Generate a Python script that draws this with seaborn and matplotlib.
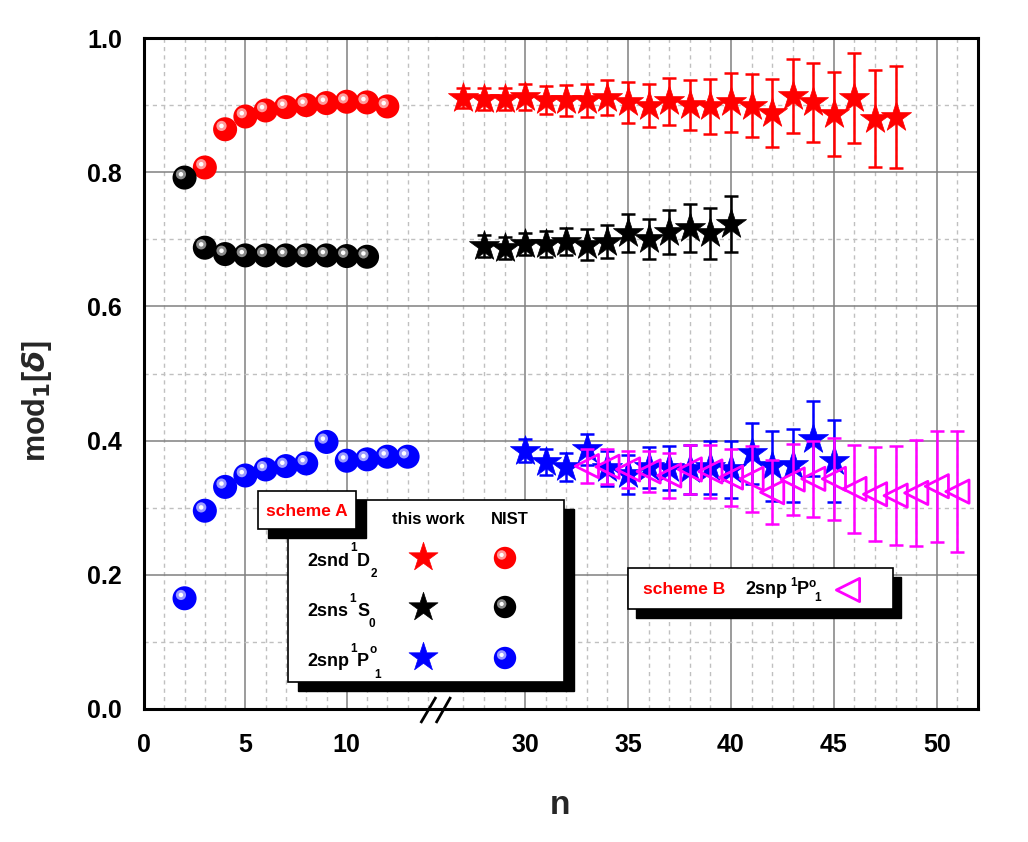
import pandas as pd
import seaborn as sns
import matplotlib.pyplot as plt
from matplotlib.patches import Rectangle
from matplotlib.transforms import ScaledTranslation

# NIST values (left part of the broken axis)
nist_d_n = [3, 4, 5, 6, 7, 8, 9, 10, 11, 12]
nist_d = [0.807, 0.864, 0.883, 0.892, 0.897, 0.900, 0.903, 0.905, 0.904, 0.898]
nist_s_n = [2, 3, 4, 5, 6, 7, 8, 9, 10, 11]
nist_s = [0.792, 0.6875, 0.678, 0.676, 0.676, 0.676, 0.676, 0.676, 0.675, 0.674]
nist_p_n = [2, 3, 4, 5, 6, 7, 8, 9, 10, 11, 12, 13]
nist_p = [0.165, 0.2955, 0.331, 0.348, 0.357, 0.362, 0.366, 0.398, 0.370, 0.372, 0.376, 0.376]

# this work, scheme A (right part)
work_d_n = list(range(27, 49))
work_d = [0.910, 0.909, 0.909, 0.912, 0.908, 0.907, 0.907, 0.911, 0.904, 0.899, 0.906,
          0.900, 0.898, 0.904, 0.899, 0.888, 0.914, 0.904, 0.887, 0.911, 0.880, 0.883]
work_d_err = [0.015, 0.016, 0.017, 0.019, 0.021, 0.023, 0.024, 0.026, 0.030, 0.032, 0.035,
              0.037, 0.041, 0.044, 0.047, 0.051, 0.055, 0.059, 0.063, 0.067, 0.072, 0.076]
work_s_n = list(range(28, 41))
work_s = [0.690, 0.687, 0.693, 0.693, 0.6965, 0.692, 0.6965, 0.709, 0.700, 0.711, 0.717, 0.709, 0.723]
work_s_err = [0.016, 0.017, 0.017, 0.019, 0.020, 0.023, 0.025, 0.028, 0.030, 0.033, 0.036, 0.038, 0.042]
work_p_n = list(range(30, 46))
work_p = [0.385, 0.368, 0.361, 0.387, 0.359, 0.350, 0.360, 0.359, 0.357, 0.360, 0.357,
          0.381, 0.362, 0.363, 0.403, 0.370]
work_p_err = [0.017, 0.019, 0.021, 0.023, 0.026, 0.029, 0.031, 0.033, 0.037, 0.040, 0.042,
              0.045, 0.052, 0.054, 0.056, 0.061]

# scheme B
b_p_n = list(range(33, 52))
b_p = [0.362, 0.361, 0.357, 0.354, 0.348, 0.357, 0.354, 0.345, 0.343, 0.323, 0.342,
       0.343, 0.343, 0.328, 0.320, 0.318, 0.322, 0.332, 0.324]
b_p_err = [0.025, 0.026, 0.028, 0.031, 0.033, 0.037, 0.040, 0.043, 0.049, 0.048, 0.053,
           0.057, 0.061, 0.065, 0.070, 0.074, 0.079, 0.083, 0.090]

RED, BLACK, BLUE, MAG = "#FF0000", "#000000", "#0000FF", "#FF00FF"

sns.set_theme(style="white")
plt.rcParams["font.family"] = ["Liberation Sans", "DejaVu Sans"]
plt.rcParams["font.weight"] = "bold"
plt.rcParams["axes.edgecolor"] = "black"
plt.rcParams["xtick.color"] = "black"
plt.rcParams["ytick.color"] = "black"

W, H = 1028, 842
fig = plt.figure(figsize=(W / 100, H / 100), dpi=100)


def frac(x0, y0, x1, y1):
    return [x0 / W, 1 - y1 / H, (x1 - x0) / W, (y1 - y0) / H]


ax1 = fig.add_axes(frac(144, 38, 436, 709))
ax2 = fig.add_axes(frac(436, 38, 978, 709), sharey=ax1)


def balls(ax, n, y, color, glow, s=300):
    df = pd.DataFrame({"n": n, "y": y})
    sns.scatterplot(data=df, x="n", y="y", ax=ax, color=color, s=s, edgecolor="none",
                    zorder=4, legend=False)
    shift = ax.transData + ScaledTranslation(-2.6 / 72, 2.4 / 72, fig.dpi_scale_trans)
    ax.scatter(n, y, s=s * 0.18, color=glow, edgecolor="none", transform=shift, zorder=5)
    ax.scatter(n, y, s=s * 0.035, color="white", edgecolor="none", transform=shift, zorder=6)


def stars(ax, n, y, err, color):
    ax.errorbar(n, y, yerr=err, fmt="none", ecolor=color, elinewidth=1.8,
                capsize=4.8, capthick=1.8, zorder=3)
    sns.scatterplot(x=n, y=y, ax=ax, marker="*", s=520, color=color, edgecolor=color,
                    linewidth=0.5, zorder=4, legend=False)


balls(ax1, nist_d_n, nist_d, RED, "#FF9A9A")
balls(ax1, nist_s_n, nist_s, BLACK, "#8A8A8A")
balls(ax1, nist_p_n, nist_p, BLUE, "#9A9AFF")

stars(ax2, work_d_n, work_d, work_d_err, RED)
stars(ax2, work_s_n, work_s, work_s_err, BLACK)
stars(ax2, work_p_n, work_p, work_p_err, BLUE)
ax2.errorbar(b_p_n, b_p, yerr=b_p_err, fmt="none", ecolor=MAG, elinewidth=1.8,
             capsize=4.8, capthick=1.8, zorder=5)
sns.scatterplot(x=b_p_n, y=b_p, ax=ax2, marker="<", s=280, facecolor="none",
                edgecolor=MAG, linewidth=2, zorder=6, legend=False)

ax1.set_xlim(0, 14.4)
ax2.set_xlim(25.67, 52)
ax1.set_ylim(0, 1.0)

for ax, major, minor in [(ax1, [0, 5, 10], [i for i in range(1, 15) if i % 5]),
                         (ax2, [30, 35, 40, 45, 50], [i for i in range(27, 53) if i % 5])]:
    ax.set_xticks(major)
    ax.set_xticks(minor, minor=True)
    ax.set_yticks([0, 0.2, 0.4, 0.6, 0.8, 1.0])
    ax.set_yticks([0.1, 0.3, 0.5, 0.7, 0.9], minor=True)
    ax.set_axisbelow(True)
    ax.grid(which="major", color="#808080", lw=1.1, ls="-")
    ax.grid(which="minor", color="#C0C0C0", lw=1.0, ls=(0, (3, 3)))
    ax.tick_params(which="major", direction="out", length=9, width=1.8, labelsize=18, pad=8)
    ax.tick_params(which="minor", direction="out", length=5.5, width=1.5)
    ax.tick_params(top=False, right=False)
    ax.set_xlabel("")
    ax.set_ylabel("")
    for sp in ax.spines.values():
        sp.set_linewidth(2.2)
        sp.set_color("black")

ax1.spines["right"].set_visible(False)
ax2.spines["left"].set_visible(False)
ax2.tick_params(axis="y", which="both", left=False, labelleft=False)
ax1.tick_params(axis="y", pad=7)
ax1.set_yticklabels(["0.0", "0.2", "0.4", "0.6", "0.8", "1.0"])

fig.text(560 / W, 1 - 805 / H, "n", ha="center", va="center", fontsize=24, fontweight="bold")
fig.text(37 / W, 1 - 401 / H, r"mod$_1$[$\delta$]", ha="center", va="center",
         rotation=90, fontsize=22, fontweight="bold")

# overlay in pixel coordinates for the boxes and the axis break
lay = fig.add_axes([0, 0, 1, 1], zorder=10)
lay.set_xlim(0, W)
lay.set_ylim(H, 0)
lay.axis("off")


def shadow_box(x0, y0, x1, y1, dx, dy):
    lay.add_patch(Rectangle((x0 + dx, y0 + dy), x1 - x0, y1 - y0, fc="black", ec="black", lw=1))
    lay.add_patch(Rectangle((x0, y0), x1 - x0, y1 - y0, fc="white", ec="black", lw=1.2))


def t(x, y, s, size=12, color="black", ha="left"):
    lay.text(x, y, s, fontsize=size, color=color, ha=ha, va="center", fontweight="bold")


def key_ball(x, y, color, glow, s=260):
    lay.scatter([x], [y], s=s, color=color, edgecolor="none", zorder=12)
    shift = lay.transData + ScaledTranslation(-2.4 / 72, 2.2 / 72, fig.dpi_scale_trans)
    lay.scatter([x], [y], s=s * 0.18, color=glow, edgecolor="none", transform=shift, zorder=13)
    lay.scatter([x], [y], s=s * 0.035, color="white", edgecolor="none", transform=shift, zorder=14)


shadow_box(288, 500, 564, 682, 10, 9)
shadow_box(258, 491, 356, 529, 10, 9)
t(307, 511, "scheme A", size=12.5, color=RED, ha="center")
t(428, 520, "this work", ha="center")
t(510, 520, "NIST", ha="center")

t(307, 561, "2snd", size=13)
t(354, 548, "1", size=8.5, ha="center")
t(357, 561, "D", size=13)
t(374, 574, "2", size=8.5, ha="center")
t(307, 612, "2sns", size=13)
t(353, 599, "1", size=8.5, ha="center")
t(357, 612, "S", size=13)
t(372, 624, "0", size=8.5, ha="center")
t(307, 662, "2snp", size=13)
t(354, 649, "1", size=8.5, ha="center")
t(357, 662, "P", size=13)
t(373, 650, "o", size=8.5, ha="center")
t(378, 675, "1", size=8.5, ha="center")

key_y = [557, 607, 657]
for yy, c in zip(key_y, [RED, BLACK, BLUE]):
    lay.scatter([423], [yy], marker="*", s=480, color=c, edgecolor=c, lw=0.5, zorder=12)
key_ball(505, 558, RED, "#FF9A9A")
key_ball(505, 607, BLACK, "#8A8A8A")
key_ball(505, 658, BLUE, "#9A9AFF")

shadow_box(628, 568, 893, 609, 8, 9)
t(643, 590, "scheme B", size=12.5, color=RED)
t(745, 590, "2snp", size=13)
t(794, 583, "1", size=8.5, ha="center")
t(797, 590, "P", size=13)
t(812, 584, "o", size=8.5, ha="center")
t(818, 598, "1", size=8.5, ha="center")
lay.scatter([848], [590], marker="<", s=280, facecolor="none", edgecolor=MAG, lw=2, zorder=12)

lay.plot([420.7, 436], [723, 697], color="black", lw=2, solid_capstyle="butt")
lay.plot([436, 450.7], [723, 697], color="black", lw=2, solid_capstyle="butt")
lay.set_xlim(0, W)
lay.set_ylim(H, 0)

fig.savefig("out.png", dpi=100)
